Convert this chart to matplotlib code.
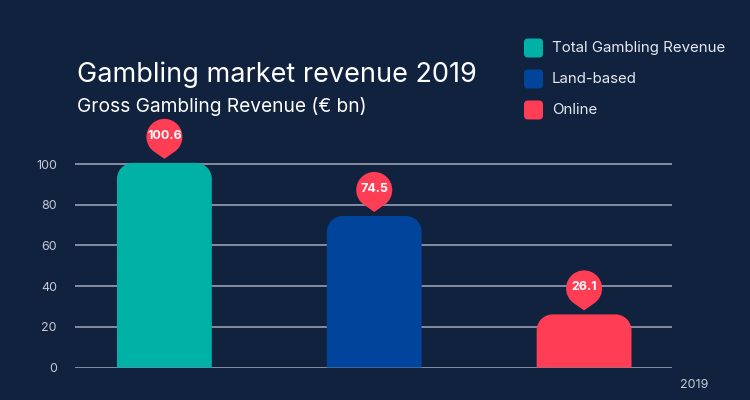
import numpy as np
import matplotlib
matplotlib.use("Agg")
import matplotlib.pyplot as plt
from matplotlib.path import Path
from matplotlib.patches import PathPatch, FancyBboxPatch
from matplotlib.transforms import Affine2D, ScaledTranslation, IdentityTransform

categories = ["Total Gambling Revenue", "Land-based", "Online"]
values = [100.6, 74.5, 26.1]
colors = ["#00B2A6", "#00449B", "#FF3D55"]
yticks = [0, 20, 40, 60, 80, 100]
year_label = "2019"
title = "Gambling market revenue 2019"
subtitle = "Gross Gambling Revenue (\u20ac bn)"

bg = "#11223F"
grid_col = "#8C95A8"
text_col = "#E6E9EF"
tick_col = "#C5CAD4"
badge_col = "#FF3D55"

plt.rcParams["font.family"] = ["Inter", "DejaVu Sans"]

W, H = 750, 400
fig = plt.figure(figsize=(W / 100, H / 100), dpi=100, facecolor=bg)

# axes placed in pixels
ax_l, ax_r, ax_b = 75, 672, 367.5
ymax = 105
px_per_y = 2.034
ax_h = ymax * px_per_y
ax = fig.add_axes([ax_l / W, (H - ax_b) / H, (ax_r - ax_l) / W, ax_h / H])
ax.set_facecolor(bg)
ax.set_xlim(-0.426, 2.419)
ax.set_ylim(0, ymax)
for s in ax.spines.values():
    s.set_visible(False)
ax.set_xticks([])
ax.set_yticks(yticks)
ax.tick_params(axis="y", length=0, pad=13, labelsize=9, labelcolor=tick_col)
ax.grid(axis="y", color=grid_col, linewidth=1.3)
ax.set_axisbelow(True)

x = np.arange(len(values))
bar_w = 0.452
px_per_x = (ax_r - ax_l) / (2.419 + 0.426)
rad = 16
rx, ry = rad / px_per_x, rad / px_per_y
k = 0.5523


def rounded_bar(xc, h):
    x0, x1 = xc - bar_w / 2, xc + bar_w / 2
    verts = [(x0, 0), (x0, h - ry),
             (x0, h - ry + k * ry), (x0 + rx - k * rx, h), (x0 + rx, h),
             (x1 - rx, h),
             (x1 - rx + k * rx, h), (x1, h - ry + k * ry), (x1, h - ry),
             (x1, 0), (x0, 0)]
    codes = [Path.MOVETO, Path.LINETO,
             Path.CURVE4, Path.CURVE4, Path.CURVE4,
             Path.LINETO,
             Path.CURVE4, Path.CURVE4, Path.CURVE4,
             Path.LINETO, Path.CLOSEPOLY]
    return Path(verts, codes)


# teardrop badge in pixel units, tip at origin
r, c = 18, 22
a = np.degrees(np.arccos(r / c))
arc = Path.arc(-90 + a, 270 - a)
av = arc.vertices * r + np.array([0, c])
ac = arc.codes.copy()
ac[0] = Path.LINETO
badge = Path(np.vstack([[0, 0], av, [0, 0], [0, 0]]),
             np.concatenate([[Path.MOVETO], ac, [Path.LINETO, Path.CLOSEPOLY]]))
gap = 4

for xi, v, col in zip(x, values, colors):
    ax.add_patch(PathPatch(rounded_bar(xi, v), facecolor=col, edgecolor="none", zorder=3))
    tr = Affine2D().translate(0, gap) + ScaledTranslation(xi, v, ax.transData)
    ax.add_patch(PathPatch(badge, transform=tr, facecolor=badge_col, edgecolor="none",
                           zorder=4, clip_on=False))
    ax.annotate(f"{v}", xy=(xi, v), xytext=(0, gap + c + 1), textcoords="offset pixels",
                ha="center", va="center", color="white", fontsize=9,
                fontweight="bold", zorder=5, annotation_clip=False)

fig.text(680 / W, (H - 385) / H, year_label, color=tick_col, fontsize=9,
         ha="left", va="center")

fig.text(77 / W, (H - 82) / H, title, color="white", fontsize=19.5, ha="left", va="baseline")
fig.text(77 / W, (H - 112) / H, subtitle, color="white", fontsize=13.8, ha="left",
         va="baseline")

# legend drawn by hand with rounded squares
for i, (lab, col) in enumerate(zip(categories, colors)):
    cy = 48 + i * 31
    fig.add_artist(FancyBboxPatch((524, H - cy - 9.5), 19, 19,
                                  boxstyle="round,pad=0,rounding_size=4",
                                  transform=IdentityTransform(), facecolor=col,
                                  edgecolor="none"))
    fig.text(552 / W, (H - cy) / H, lab, color=text_col, fontsize=10.8,
             ha="left", va="center")

fig.savefig("out.png", dpi=100, facecolor=bg)
